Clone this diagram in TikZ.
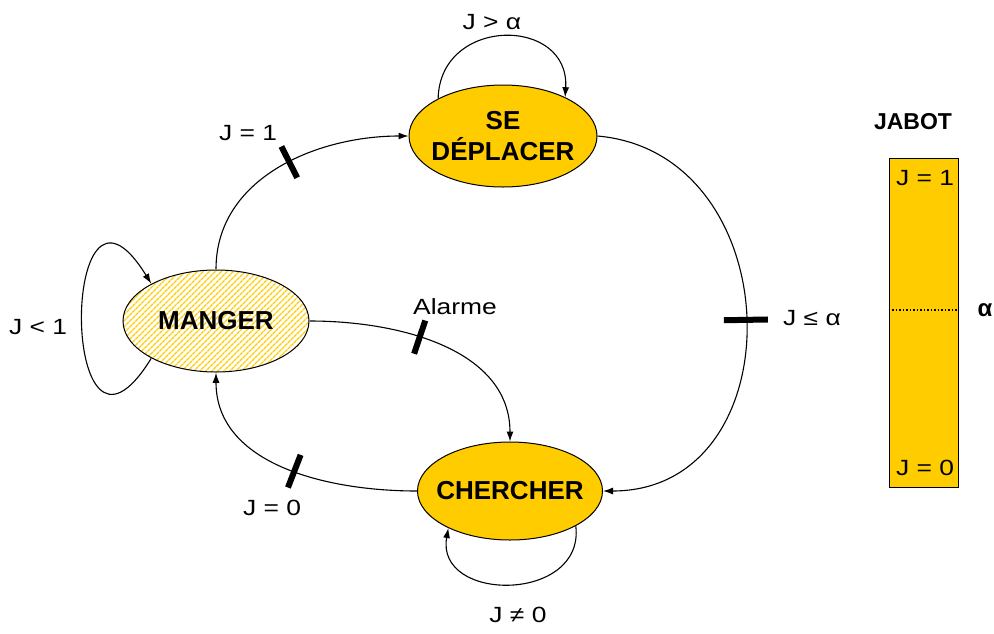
\documentclass[tikz,border=0pt]{standalone}
\usepackage{fontspec}
\setmainfont{Liberation Sans}
\newfontfamily\lblfont[FakeStretch=1.2]{Liberation Sans}
\usetikzlibrary{arrows.meta,shapes.geometric,patterns.meta}
\definecolor{jaune}{RGB}{255,204,0}

\begin{document}
\begin{tikzpicture}[x=1pt,y=1pt,
  state/.style={ellipse,draw,line width=1pt,fill=jaune,inner sep=0pt},
  hatched/.style={ellipse,draw,line width=1pt,inner sep=0pt,
              pattern={Lines[angle=45,distance=4pt,line width=1.6pt]},pattern color=jaune},
  stname/.style={font=\fontsize{26}{31}\selectfont\bfseries,align=center},
  lbl/.style={font=\lblfont\fontsize{22}{24}\selectfont},
  arr/.style={-{Latex[length=10pt,width=7pt]},line width=1.1pt},
  bar/.style={fill=black,inner sep=0pt,minimum width=6pt,minimum height=35pt,sloped}
]
\useasboundingbox (0,0) rectangle (994,-633);
% etats
\node[state,minimum width=188pt,minimum height=102pt] (s) at (503,-136) {};
\node[stname] (stxt) at (s) {SE\\DÉPLACER};
\node[hatched,minimum width=186pt,minimum height=102pt] (m) at (216,-321) {};
\node[stname] (mtxt) at (m) {MANGER};
\node[state,minimum width=185pt,minimum height=98pt] (c) at (510,-491) {};
\node[stname] (ctxt) at (c) {CHERCHER};

% transitions
\draw[arr] (m.north) to[out=90,in=180] node[bar,pos=0.55]{} (s.west);
\draw[arr] (s.east) to[out=-5,in=0,looseness=1.4] node[bar,pos=0.5,minimum height=44pt]{} (c.east);
\draw[arr] (m.east) to[out=0,in=90] node[bar,pos=0.4]{} (c.north);
\draw[arr] (c.west) to[out=180,in=-90] node[bar,pos=0.45]{} (m.south);
\draw[arr] (s.150) .. controls (440,-16) and (570,-16) .. (s.32);
\draw[arr] (m.210) .. controls (59,-508) and (59,-134) .. (m.150);
\draw[arr] (c.-28) .. controls (585,-603) and (435,-603) .. (c.211);

% conditions
\node[lbl] (lsup) at (492,-22) {J > α};
\node[lbl] (lun) at (248,-133) {J = 1};
\node[lbl] (linf) at (38,-327) {J < 1};
\node[lbl] (lalarme) at (455,-307) {Alarme};
\node[lbl] (lseuil) at (812,-318) {J ≤ α};
\node[lbl] (lzero) at (272,-508) {J = 0};
\node[lbl] (lnonzero) at (518,-615) {J ≠ 0};

% jabot
\node[draw,fill=jaune,line width=1pt,minimum width=69pt,minimum height=329pt,inner sep=0pt] (jabot) at (923.5,-322.5) {};
\node[font=\fontsize{23}{24}\selectfont\bfseries] (titre) at (913,-122) {JABOT};
\draw[dotted,line width=1.5pt] ([yshift=12.5pt]jabot.west) -- ([yshift=12.5pt]jabot.east);
\node[font=\fontsize{24}{24}\selectfont\bfseries] (alpha) at (985,-310) {α};
\node[lbl] (jhaut) at (925,-178) {J = 1};
\node[lbl] (jbas) at (925,-468) {J = 0};
\end{tikzpicture}
\end{document}
